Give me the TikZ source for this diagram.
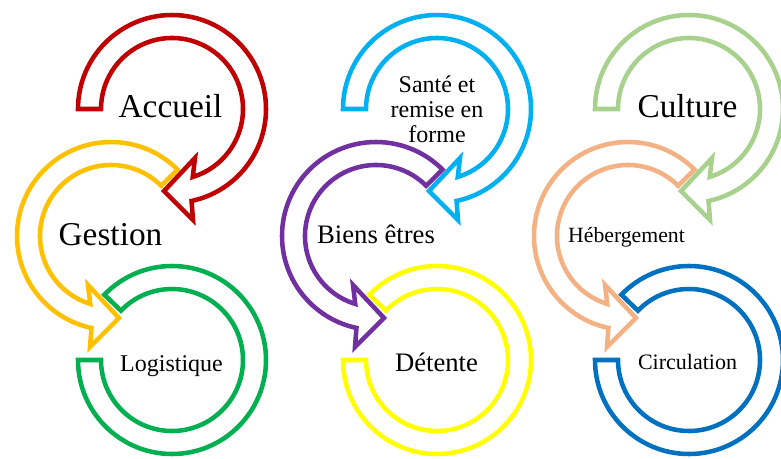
\documentclass[tikz,border=0pt]{standalone}
\usepackage{fontspec}
\setmainfont{Liberation Serif}
\definecolor{accred}{HTML}{C00000}
\definecolor{gestgold}{HTML}{FFC000}
\definecolor{logigreen}{HTML}{00B050}
\definecolor{santeblue}{HTML}{00B0F0}
\definecolor{bienpurple}{HTML}{7030A0}
\definecolor{detyellow}{HTML}{FFFF00}
\definecolor{cultgreen}{HTML}{A9D18E}
\definecolor{hebpeach}{HTML}{F4B183}
\definecolor{circblue}{HTML}{0070C0}

\begin{document}
\begin{tikzpicture}[
    x=0.75pt, y=0.75pt,
    band/.style={draw=#1, line width=3.4pt, fill=white},
    lbl/.style={anchor=base, inner sep=0pt, font=\fontsize{#1}{#1}\selectfont},
    topband/.pic={\draw[band=#1] (180:94) arc[start angle=180, end angle=-78, radius=94]
        -- (21,-111) -- (-8,-82) -- (23,-49) -- (-73:71)
        arc[start angle=-73, end angle=180, radius=71] -- cycle;},
    midband/.pic={\draw[band=#1] (45:94) arc[start angle=45, end angle=258, radius=94]
        -- (-21,-111) -- (8,-82) -- (-23,-49) -- (253:71)
        arc[start angle=253, end angle=45, radius=71] -- cycle;},
    lowband/.pic={\draw[band=#1] (180:94) arc[start angle=180, end angle=496, radius=94]
        -- (136:71) arc[start angle=136, end angle=-180, radius=71] -- cycle;}
]
\useasboundingbox (0,0) rectangle (781,458);
\clip (0,0) rectangle (781,458);

% left column
\pic at (172,98) {lowband=logigreen};
\pic at (111,222) {midband=gestgold};
\pic at (172,349) {topband=accred};
% middle column
\pic at (437,98) {lowband=detyellow};
\pic at (376,222) {midband=bienpurple};
\pic at (437,349) {topband=santeblue};
% right column
\pic at (689,98) {lowband=circblue};
\pic at (628,222) {midband=hebpeach};
\pic at (689,349) {topband=cultgreen};

\node[lbl=25] (accueil) at (170.5,340) {Accueil};
\node[lbl=25] (gestion) at (110.5,213) {Gestion};
\node[lbl=18] (logistique) at (171.5,87) {Logistique};
\node[align=center, inner sep=0pt, font=\fontsize{18}{18.6}\selectfont] (sante) at (437,349) {Santé et\\remise en\\forme};
\node[lbl=20] (biens) at (376,215) {Biens êtres};
\node[lbl=20] (detente) at (436.5,87) {Détente};
\node[lbl=25] (culture) at (687.5,340) {Culture};
\node[lbl=16.3] (hebergement) at (626.5,216) {Hébergement};
\node[lbl=16.5] (circulation) at (687.5,89) {Circulation};
\end{tikzpicture}
\end{document}
